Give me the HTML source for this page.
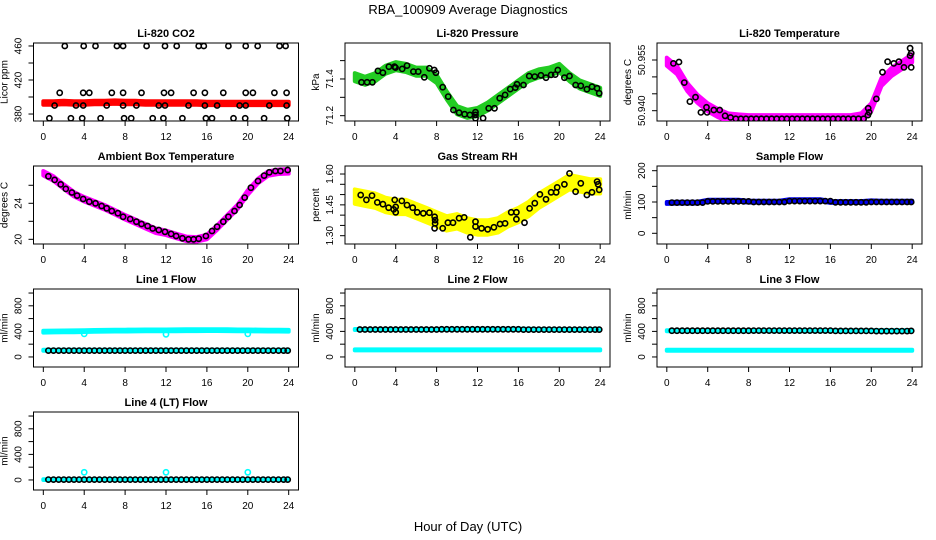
<!DOCTYPE html>
<html><head><meta charset="utf-8"><title>RBA_100909 Average Diagnostics</title>
<style>
html,body{margin:0;padding:0;background:#fff;}
svg{display:block;font-family:"Liberation Sans",Arial,sans-serif;}
</style></head>
<body>
<svg id="chart" width="936" height="540" viewBox="0 0 936 540" xmlns="http://www.w3.org/2000/svg">
<text x="468" y="14" text-anchor="middle" font-size="13">RBA_100909  Average Diagnostics</text>
<text x="468" y="531" text-anchor="middle" font-size="13">Hour of Day (UTC)</text>
</svg>
<script>
// ---------- shared categories ----------
const hours = [0,1,2,3,4,5,6,7,8,9,10,11,12,13,14,15,16,17,18,19,20,21,22,23,24];
const xTicks = [0,4,8,12,16,20,24];
const tFlow = [0.5,1,1.5,2,2.5,3,3.5,4,4.5,5,5.5,6,6.5,7,7.5,8,8.5,9,9.5,10,10.5,11,11.5,12,12.5,13,13.5,14,14.5,15,15.5,16,16.5,17,17.5,18,18.5,19,19.5,20,20.5,21,21.5,22,22.5,23,23.5,23.9];

// ---------- CO2 ----------
const co2T = [2.1,3.95,5.1,7.2,7.8,10.1,11.9,13.05,15.2,15.7,18.1,19.8,20.97,23.1,23.7, 1.6,3.9,4.5,6.7,7.8,9.6,11.8,12.5,14.7,15.8,17.6,19.8,20.5,22.6,23.8, 1.1,3.2,3.9,6.2,7.8,9.1,11.3,11.9,14.2,15.8,17.0,19.2,19.8,22.1,23.8, 0.6,2.7,3.8,5.6,7.9,8.6,10.7,11.75,13.6,15.9,16.5,18.6,19.75,21.6,23.85];
const co2V = [460,460,460,460,460,460,460,460,460,460,460,460,460,460,460, 405,405,405,405,405,405,405,405,405,405,405,405,405,405,405, 390,390,390,390,390,390,390,390,390,390,390,390,390,390,390, 375,375,375,375,375,375,375,375,375,375,375,375,375,375,375];
const co2Band = [393,393,393.5,393,393,393.5,393.5,394,393.5,393.5,393,393,393,393,393,393,392.5,392.5,392.5,392.5,392.5,392.5,392.5,392.5,392.5];

// ---------- Pressure ----------
const prT = [0.65,1.2,1.72,2.26,2.75,3.33,3.88,3.98,4.63,5.1,5.73,6.2,6.8,7.3,7.77,7.93,8.6,9.13,9.64,10.2,10.74,11.26,11.8,11.8,11.8,12.55,13.1,13.66,14.17,14.7,15.2,15.7,15.86,16.5,17.06,17.6,18.2,18.7,19.2,19.6,19.85,20.5,21.0,21.6,22.1,22.7,23.2,23.7,23.9];
const prV = [71.382,71.382,71.382,71.444,71.434,71.467,71.467,71.462,71.455,71.473,71.440,71.440,71.409,71.458,71.449,71.434,71.355,71.304,71.231,71.216,71.208,71.204,71.204,71.186,71.219,71.186,71.240,71.240,71.295,71.313,71.345,71.353,71.371,71.367,71.416,71.413,71.420,71.407,71.422,71.424,71.449,71.407,71.416,71.367,71.363,71.344,71.358,71.349,71.322];
const prBand = [71.41,71.39,71.41,71.45,71.47,71.46,71.44,71.44,71.40,71.31,71.23,71.21,71.22,71.25,71.29,71.33,71.37,71.41,71.43,71.44,71.46,71.41,71.37,71.35,71.33];

// ---------- Li-820 Temperature ----------
const tmpT = [0.64,1.19,1.71,2.26,2.81,3.33,3.88,3.94,4.6,5.17,5.7,6.24,6.75,7.25,7.75,8.25,8.75,9.25,9.75,10.25,10.75,11.25,11.75,12.25,12.75,13.25,13.75,14.25,14.75,15.25,15.75,16.25,16.75,17.25,17.75,18.25,18.75,19.25,19.67,19.7,19.8,20.5,21.1,21.6,22.2,22.7,23.2,23.8,23.8,23.9,23.9];
const tmpV = [50.954,50.9544,50.9483,50.9427,50.944,50.9395,50.941,50.9395,50.9402,50.9402,50.9385,50.938,50.9376,50.9376,50.9376,50.9376,50.9376,50.9376,50.9376,50.9376,50.9376,50.9376,50.9376,50.9376,50.9376,50.9376,50.9376,50.9376,50.9376,50.9376,50.9376,50.9376,50.9376,50.9376,50.9376,50.9376,50.9376,50.9376,50.9387,50.9407,50.9395,50.9435,50.9514,50.9545,50.954,50.9545,50.9528,50.9585,50.9563,50.957,50.9528];
const tmpBand = [50.9545,50.952,50.947,50.9435,50.941,50.9393,50.938,50.9377,50.9375,50.9375,50.9375,50.9375,50.9375,50.9375,50.9375,50.9375,50.9375,50.9375,50.9375,50.938,50.941,50.9485,50.9515,50.9535,50.9555];

// ---------- Ambient ----------
const ambT = [0.5,1.1,1.7,2.2,2.8,3.3,3.9,4.5,5.1,5.7,6.2,6.7,7.3,7.8,8.5,9.1,9.6,10.2,10.7,11.3,11.9,12.5,13.0,13.6,14.2,14.7,15.2,15.9,16.5,17.0,17.6,18.1,18.7,19.2,19.7,20.3,21.0,21.6,22.1,22.7,23.2,23.9];
const ambV = [27.0,26.6,26.1,25.6,25.2,24.85,24.48,24.18,24.0,23.7,23.44,23.14,22.9,22.5,22.26,21.96,21.7,21.48,21.2,21.03,20.84,20.6,20.37,20.11,20.0,20.0,20.07,20.37,20.92,21.4,21.96,22.5,23.14,23.81,24.63,25.73,26.48,27.07,27.44,27.59,27.59,27.7];
const ambBand = [27.33,26.75,25.85,25.0,24.45,24.0,23.55,23.0,22.45,21.96,21.45,20.95,20.72,20.37,20.05,20.0,20.25,21.3,22.45,23.6,25.2,26.48,27.3,27.5,27.55];

// ---------- Gas Stream RH ----------
const rhT = [0.58,1.13,1.68,2.2,2.75,3.3,3.8,3.9,4.0,4.0,4.6,5.1,5.66,6.1,6.7,7.3,7.8,7.85,7.85,7.8,8.6,9.1,9.6,10.2,10.7,11.3,11.8,11.8,12.4,13.0,13.6,14.2,14.7,15.3,15.8,15.8,16.6,17.1,17.6,18.1,18.7,19.2,19.7,19.8,20.5,21.0,21.6,22.1,22.7,23.2,23.7,23.8,23.9];
const rhV = [1.498,1.474,1.495,1.462,1.453,1.436,1.428,1.474,1.44,1.414,1.469,1.449,1.436,1.414,1.409,1.412,1.392,1.376,1.36,1.336,1.336,1.363,1.363,1.385,1.389,1.292,1.368,1.344,1.336,1.331,1.341,1.357,1.36,1.414,1.414,1.38,1.363,1.433,1.458,1.501,1.477,1.511,1.511,1.535,1.55,1.603,1.514,1.555,1.498,1.511,1.563,1.55,1.523];
const rhBand = [1.49,1.48,1.47,1.45,1.44,1.44,1.42,1.40,1.38,1.36,1.37,1.35,1.34,1.34,1.35,1.38,1.40,1.43,1.47,1.50,1.53,1.56,1.55,1.54,1.54];

// ---------- Sample Flow ----------
const sfV = [98,98,98,98,98,98,98,102,102,102,102,102,102,102,102,102,100,100,100,100,100,100,100,103,103,103,103,103,103,103,103,103,99,99,99,99,99,99,99,100,100,100,100,100,100,100,100,100];
const sfBand = [97,98,98,98,104,104,104,104,101,101,101,101,106,106,106,106,100,100,100,100,102,101,101,101,101];

// ---------- Line flows ----------
const l1V = [100,100,100,100,100,100,100,100,100,100,100,100,100,100,100,100,100,100,100,100,100,100,100,100,100,100,100,100,100,100,100,100,100,100,100,100,100,100,100,100,100,100,100,100,100,100,100,100];
const l1BandHi = [395,398,400,402,405,408,410,412,412,414,415,415,416,417,418,418,420,420,418,416,415,414,412,412,410];
const l1BandLo = [105,105,105,105,105,105,105,105,105,105,105,105,105,105,105,105,105,105,105,105,105,105,105,105,105];
const l2V = [430,430,430,430,430,430,430,430,430,430,430,430,430,430,430,430,432,432,432,432,432,432,432,432,432,432,432,432,432,432,432,432,428,428,428,428,428,428,428,428,428,428,428,428,428,428,428,428];
const l2BandHi = [430,430,430,430,430,430,430,430,430,430,432,432,432,432,432,432,432,432,430,430,428,428,428,428,428];
const l2BandLo = [110,110,110,110,110,110,110,110,110,110,110,110,110,110,110,110,110,110,110,110,110,110,110,110,110];
const l3V = [410,410,410,410,410,410,410,410,410,410,410,410,410,410,410,410,412,412,412,412,412,412,412,412,412,412,412,412,412,412,412,412,408,408,408,408,408,408,408,408,405,405,405,405,405,405,405,408];
const l3BandHi = [410,410,410,410,410,410,410,410,410,410,410,410,410,410,410,410,412,412,412,412,412,412,412,412,412];
const l3BandLo = [105,105,105,105,105,105,105,105,105,105,105,105,105,105,105,105,105,105,105,105,105,105,105,105,105];
const l4V = [5,5,5,5,5,5,5,5,5,5,5,5,5,5,5,5,5,5,5,5,5,5,5,5,5,5,5,5,5,5,5,5,5,5,5,5,5,5,5,5,5,5,5,5,5,5,5,5];
const l4Band = [5,5,5,5,5,5,5,5,5,5,5,5,5,5,5,5,5,5,5,5,5,5,5,5,5];
const spikeT = [4,12,20];
const l1Spike = [360,355,360];
const l4Spike = [120,120,120];

// ---------- layout ----------
const NS = "http://www.w3.org/2000/svg";
const svg = document.getElementById('chart');
const colLeft = [33.5, 345, 657];
const rowTop = [43, 166, 289, 412];
const W = 265, H = 78;
const flowTicks = [0,200,400,600,800,1000];
const flowLabs = [0,400,800];

function mk(tag, attrs, parent){
  const e = document.createElementNS(NS, tag);
  for (const k in attrs) e.setAttribute(k, attrs[k]);
  (parent||svg).appendChild(e);
  return e;
}

function panel(col,row,title,ylab,ylim,yTicks,yLabs,fmt,key){
  const L = colLeft[col], T = rowTop[row];
  const g = mk('g',{});
  
  
  const sx = h => L + (h + 0.96) / 25.92 * W;
  const sy = v => T + H - (v - ylim[0]) / (ylim[1] - ylim[0]) * H;
  const t = mk('text',{x:L+W/2, y:T-6, 'text-anchor':'middle','font-size':11,'font-weight':'bold'},g);
  t.textContent = title;
  
  
  const box = mk('rect',{x:L,y:T,width:W,height:H,fill:'none',stroke:'#000','stroke-width':1},g);
  
  
  const xa = mk('g',{},g);
  
  
  mk('line',{x1:sx(xTicks[0]),x2:sx(xTicks[xTicks.length-1]),y1:T+H,y2:T+H,stroke:'#000'},xa);
  xTicks.forEach(v=>{
    mk('line',{x1:sx(v),x2:sx(v),y1:T+H,y2:T+H+5,stroke:'#000'},xa);
    const tl = mk('text',{x:sx(v),y:T+H+19,'text-anchor':'middle','font-size':10},xa);
    tl.textContent = v;
    
    
  });
  const ya = mk('g',{},g);
  
  
  mk('line',{x1:L,x2:L,y1:sy(yTicks[0]),y2:sy(yTicks[yTicks.length-1]),stroke:'#000'},ya);
  yTicks.forEach(v=>{ mk('line',{x1:L-5,x2:L,y1:sy(v),y2:sy(v),stroke:'#000'},ya); });
  yLabs.forEach(v=>{
    const x = L-12, y = sy(v);
    const tl = mk('text',{x:x,y:y,'text-anchor':'middle','font-size':10,transform:`rotate(-90 ${x} ${y})`},ya);
    tl.textContent = fmt(v);
    
    
  });
  const yx = L-26, yy = T+H/2;
  const yt = mk('text',{x:yx,y:yy,'text-anchor':'middle','font-size':10,transform:`rotate(-90 ${yx} ${yy})`},g);
  yt.textContent = ylab;
  
  
  const clipId = 'clip-' + key;
  const cp = mk('clipPath',{id:clipId},g);
  mk('rect',{x:L,y:T,width:W,height:H},cp);
  const plot = mk('g',{'clip-path':`url(#${clipId})`},g);
  
  
  return {sx, sy, plot};
}

function band(p, xs, center, half, color, name){
  const up = xs.map((h,i)=>`${p.sx(h).toFixed(1)},${p.sy(center[i]+half).toFixed(1)}`);
  const dn = xs.map((h,i)=>`${p.sx(h).toFixed(1)},${p.sy(center[i]-half).toFixed(1)}`).reverse();
  const e = mk('polygon',{points:up.concat(dn).join(' '),fill:color,stroke:color,'stroke-width':4,'stroke-linejoin':'round'},p.plot);
  
  
}
function pts(p, xs, vs, color, name, sw){
  const g = mk('g',{},p.plot);
  
  
  xs.forEach((h,i)=>{
    const c = mk('circle',{cx:p.sx(h).toFixed(1),cy:p.sy(vs[i]).toFixed(1),r:2.6,fill:'none',stroke:color,'stroke-width':sw||1.6},g);
    
    
  });
}
const f0 = v => String(v);
const f2 = v => v.toFixed(2);
const f3 = v => v.toFixed(3);

let p = panel(0,0,'Li-820 CO2','Licor ppm',[371.8,463.5],[380,400,420,440,460],[380,420,460],f0,'co2');
band(p, hours, co2Band, 2, '#ff0000', 'co2-raw-band');
pts(p, co2T, co2V, '#000', 'co2-hourly');

p = panel(1,0,'Li-820 Pressure','kPa',[71.171,71.596],[71.2,71.3,71.4,71.5],[71.2,71.4],v=>v.toFixed(1),'pressure');
band(p, hours, prBand, 0.022, '#22cc22', 'pressure-raw-band');
pts(p, prT, prV, '#000', 'pressure-hourly');

p = panel(2,0,'Li-820 Temperature','degrees C',[50.93695,50.96003],[50.940,50.945,50.950,50.955],[50.940,50.955],f3,'li820-temp');
band(p, hours, tmpBand, 0.0012, '#ff00ff', 'li820-temp-raw-band');
pts(p, tmpT, tmpV, '#000', 'li820-temp-hourly');

p = panel(0,1,'Ambient Box Temperature','degrees C',[19.48,28.14],[20,22,24,26],[20,24],f0,'ambient');
band(p, hours, ambBand, 0.25, '#ff00ff', 'ambient-raw-band');
pts(p, ambT, ambV, '#000', 'ambient-hourly');

p = panel(1,1,'Gas Stream RH','percent',[1.2596,1.639],[1.30,1.35,1.40,1.45,1.50,1.55,1.60],[1.30,1.45,1.60],f2,'rh');
band(p, hours, rhBand, 0.035, '#ffff00', 'rh-raw-band');
pts(p, rhT, rhV, '#000', 'rh-hourly');

p = panel(2,1,'Sample Flow','ml/min',[-34.2,215],[0,50,100,150,200],[0,100,200],f0,'sample-flow');
band(p, hours, sfBand, 3, '#0000ee', 'sample-flow-raw-band');
pts(p, tFlow, sfV, '#000', 'sample-flow-hourly');

p = panel(0,2,'Line 1 Flow','ml/min',[-157,1063],flowTicks,flowLabs,f0,'line1');
band(p, hours, l1BandHi, 14, '#00ffff', 'line1-raw-band-high');
band(p, hours, l1BandLo, 8, '#00ffff', 'line1-raw-band-low');
pts(p, spikeT, l1Spike, '#00ffff', 'line1-spikes');
pts(p, tFlow, l1V, '#000', 'line1-hourly');

p = panel(1,2,'Line 2 Flow','ml/min',[-157,1063],flowTicks,flowLabs,f0,'line2');
band(p, hours, l2BandHi, 8, '#00ffff', 'line2-raw-band-high');
band(p, hours, l2BandLo, 8, '#00ffff', 'line2-raw-band-low');
pts(p, tFlow, l2V, '#000', 'line2-hourly');

p = panel(2,2,'Line 3 Flow','ml/min',[-157,1063],flowTicks,flowLabs,f0,'line3');
band(p, hours, l3BandHi, 8, '#00ffff', 'line3-raw-band-high');
band(p, hours, l3BandLo, 8, '#00ffff', 'line3-raw-band-low');
pts(p, tFlow, l3V, '#000', 'line3-hourly');

p = panel(0,3,'Line 4 (LT) Flow','ml/min',[-157,1063],flowTicks,flowLabs,f0,'line4');
band(p, hours, l4Band, 6, '#00ffff', 'line4-raw-band');
pts(p, spikeT, l4Spike, '#00ffff', 'line4-spikes');
pts(p, tFlow, l4V, '#000', 'line4-hourly');
</script>
</body></html>
